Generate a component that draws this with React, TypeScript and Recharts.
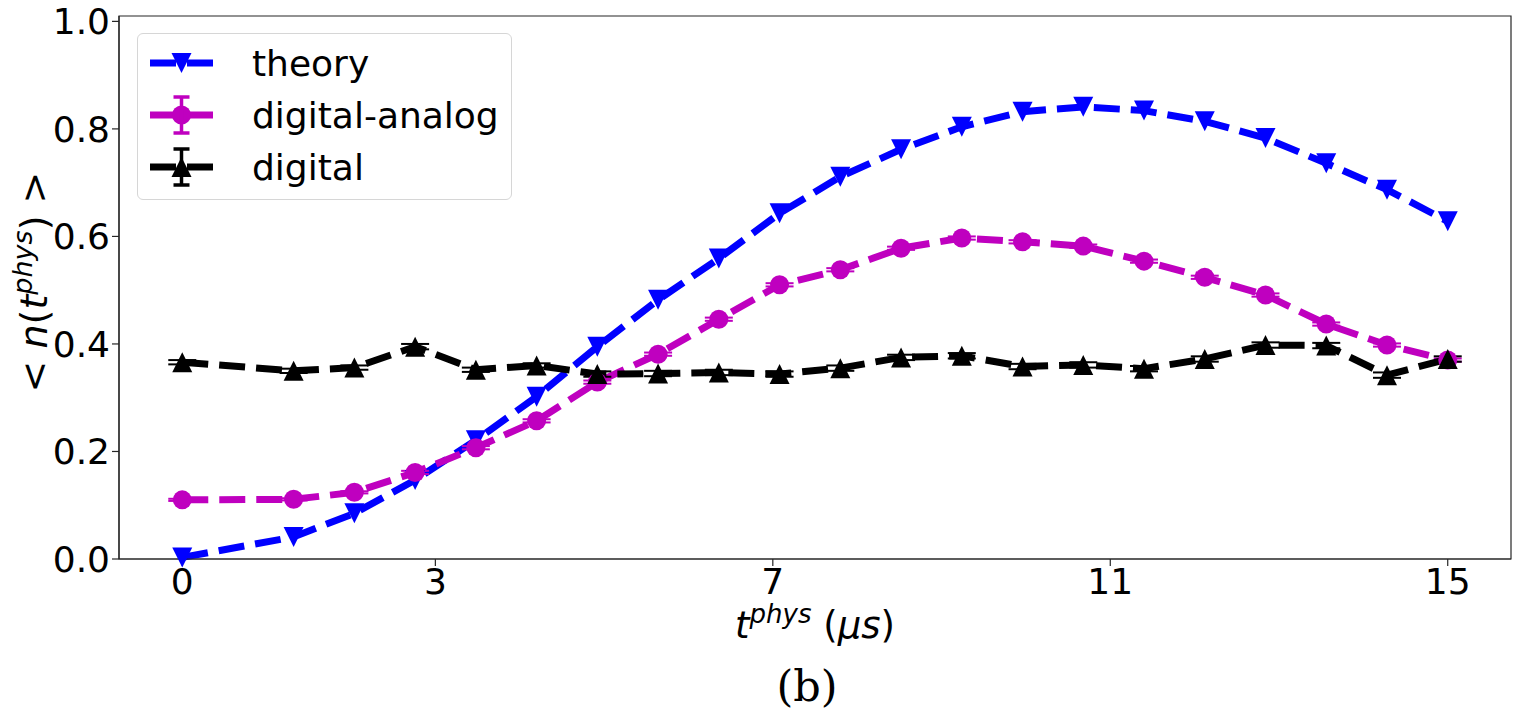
import { ErrorBar, Legend, Line, LineChart, ReferenceArea, XAxis, YAxis } from "recharts";

// t_phys in microseconds, 21 sample points
const tPhys = [
  0, 1.32, 2.04, 2.76, 3.48, 4.2, 4.92, 5.64, 6.36, 7.08, 7.8, 8.52, 9.24, 9.96,
  10.68, 11.4, 12.12, 12.84, 13.56, 14.28, 15.0,
];

const theory = [
  0.003, 0.041, 0.085, 0.147, 0.221, 0.302, 0.395, 0.482, 0.559, 0.643, 0.711,
  0.762, 0.804, 0.832, 0.841, 0.834, 0.814, 0.783, 0.736, 0.687, 0.628,
];

const digitalAnalog = [
  0.11, 0.111, 0.124, 0.161, 0.207, 0.257, 0.329, 0.381, 0.446, 0.51, 0.538,
  0.578, 0.597, 0.59, 0.582, 0.554, 0.524, 0.491, 0.437, 0.398, 0.37,
];
const digitalAnalogErr = [
  0.002, 0.002, 0.002, 0.003, 0.003, 0.003, 0.003, 0.003, 0.003, 0.003, 0.003,
  0.003, 0.003, 0.003, 0.003, 0.003, 0.003, 0.003, 0.003, 0.003, 0.003,
];

const digital = [
  0.366, 0.35, 0.356, 0.395, 0.352, 0.36, 0.344, 0.345, 0.347, 0.344, 0.355,
  0.375, 0.378, 0.358, 0.361, 0.354, 0.372, 0.398, 0.397, 0.342, 0.372,
];
const digitalErr = [
  0.004, 0.004, 0.004, 0.005, 0.004, 0.004, 0.005, 0.005, 0.005, 0.005, 0.005,
  0.005, 0.005, 0.005, 0.005, 0.005, 0.005, 0.005, 0.005, 0.005, 0.005,
];

const xTicks = [0, 3, 7, 11, 15];
const yTicks = [0, 0.2, 0.4, 0.6, 0.8, 1.0];
const xDomain = [-0.75, 15.75];
const yDomain = [0, 1.01];
const seriesNames = ["theory", "digital-analog", "digital"];

const data = tPhys.map((t, i) => ({
  t,
  theory: theory[i],
  da: digitalAnalog[i],
  daErr: digitalAnalogErr[i],
  dig: digital[i],
  digErr: digitalErr[i],
}));

const BLUE = "#0000ff";
const MAGENTA = "#bf00bf";
const BLACK = "#000000";
const AXIS = "#262626";
const FONT = '"DejaVu Sans", sans-serif';
const FS = 36;
const LW = 7;
const DASH = "26 11";
const MS = 20;

function marker(kind: string, cx: number, cy: number, color: string, key?: string) {
  const h = MS / 2;
  if (kind === "circle") return <circle key={key} cx={cx} cy={cy} r={h - 0.5} fill={color} />;
  const pts =
    kind === "down"
      ? `${cx},${cy + h} ${cx - h},${cy - h} ${cx + h},${cy - h}`
      : `${cx},${cy - h} ${cx - h},${cy + h} ${cx + h},${cy + h}`;
  return <polygon key={key} points={pts} fill={color} />;
}

const legendRows = [
  { name: seriesNames[0], color: BLUE, kind: "down", err: false },
  { name: seriesNames[1], color: MAGENTA, kind: "circle", err: true },
  { name: seriesNames[2], color: BLACK, kind: "up", err: true },
];

const renderLegend = () => (
  <div
    style={{
      position: "relative",
      width: 373,
      height: 165,
      border: "1px solid #d6d6d6",
      borderRadius: 6,
      background: "rgba(255,255,255,0.8)",
      fontFamily: FONT,
      fontSize: 36,
      color: "#000",
    }}
  >
    {legendRows.map((r, i) => (
      <div
        key={r.name}
        style={{
          position: "absolute",
          left: 0,
          top: 3 + i * 52,
          height: 52,
          display: "flex",
          alignItems: "center",
          whiteSpace: "nowrap",
        }}
      >
        <svg width={114} height={52} style={{ display: "block" }}>
          <line x1={12} y1={26} x2={75} y2={26} stroke={r.color} strokeWidth={LW} strokeDasharray={DASH} />
          {marker(r.kind, 43.5, 26, r.color)}
          {r.err && (
            <g stroke={r.color} strokeWidth={3.5}>
              <line x1={43.5} y1={8} x2={43.5} y2={44} />
              <line x1={35.5} y1={8} x2={51.5} y2={8} />
              <line x1={35.5} y1={44} x2={51.5} y2={44} />
            </g>
          )}
        </svg>
        <span>{r.name}</span>
      </div>
    ))}
  </div>
);

const renderXTitle = () => (
  <g>
    <text x={815} y={638} textAnchor="middle" fontFamily={FONT} fontSize={37} fill="#000">
      <tspan fontStyle="italic">t</tspan>
      <tspan fontStyle="italic" fontSize={26} dy={-15}>
        phys
      </tspan>
      <tspan dy={15}> (</tspan>
      <tspan fontStyle="italic">μs</tspan>
      <tspan>)</tspan>
    </text>
    <text x={807} y={701} textAnchor="middle" fontFamily='"DejaVu Serif", serif' fontSize={43} fill="#000">
      (b)
    </text>
  </g>
);

const renderYTitle = () => (
  <text
    x={0}
    y={0}
    transform="translate(47 282) rotate(-90)"
    textAnchor="middle"
    fontFamily={FONT}
    fontSize={38}
    fill="#000"
  >
    <tspan>{"< "}</tspan>
    <tspan fontStyle="italic">n</tspan>
    <tspan>(</tspan>
    <tspan fontStyle="italic">t</tspan>
    <tspan fontStyle="italic" fontSize={27} dy={-15}>
      phys
    </tspan>
    <tspan dy={15}>{") >"}</tspan>
  </text>
);

const tickStyle = { fill: "#000", fontSize: FS, fontFamily: FONT };

export default function App() {
  return (
    <div style={{ position: "absolute", left: 0, top: 0, background: "#fff" }}>
      <LineChart width={1519} height={719} data={data} margin={{ top: 16, right: 8, left: 0, bottom: 0 }}>
        <XAxis
          dataKey="t"
          type="number"
          domain={xDomain}
          ticks={xTicks}
          height={160}
          tick={tickStyle}
          tickSize={7}
          axisLine={{ stroke: AXIS, strokeWidth: 1.2 }}
          tickLine={{ stroke: AXIS, strokeWidth: 1.2 }}
          label={renderXTitle}
        />
        <YAxis
          type="number"
          domain={yDomain}
          ticks={yTicks}
          width={119}
          tick={tickStyle}
          tickSize={7}
          tickFormatter={(v: number) => v.toFixed(1)}
          axisLine={{ stroke: AXIS, strokeWidth: 1.2 }}
          tickLine={{ stroke: AXIS, strokeWidth: 1.2 }}
          label={renderYTitle}
        />
        <ReferenceArea
          x1={xDomain[0]}
          x2={xDomain[1]}
          y1={yDomain[0]}
          y2={yDomain[1]}
          fill="none"
          stroke={AXIS}
          strokeWidth={1.2}
          ifOverflow="visible"
        />
        <Legend
          layout="vertical"
          align="center"
          verticalAlign="middle"
          content={renderLegend}
          wrapperStyle={{ left: 137, top: 33, width: 375, height: 167 }}
        />
        <Line
          dataKey="theory"
          name={seriesNames[0]}
          stroke={BLUE}
          strokeWidth={LW}
          strokeDasharray={DASH}
          dot={(p: any) => marker("down", p.cx, p.cy, BLUE, `th-${p.index}`)}
          activeDot={false}
          isAnimationActive={false}
        />
        <Line
          dataKey="da"
          name={seriesNames[1]}
          stroke={MAGENTA}
          strokeWidth={LW}
          strokeDasharray={DASH}
          dot={(p: any) => marker("circle", p.cx, p.cy, MAGENTA, `da-${p.index}`)}
          activeDot={false}
          isAnimationActive={false}
        >
          <ErrorBar dataKey="daErr" direction="y" width={14} stroke={MAGENTA} strokeWidth={2} isAnimationActive={false} />
        </Line>
        <Line
          dataKey="dig"
          name={seriesNames[2]}
          stroke={BLACK}
          strokeWidth={LW}
          strokeDasharray={DASH}
          dot={(p: any) => marker("up", p.cx, p.cy, BLACK, `dg-${p.index}`)}
          activeDot={false}
          isAnimationActive={false}
        >
          <ErrorBar dataKey="digErr" direction="y" width={14} stroke={BLACK} strokeWidth={2} isAnimationActive={false} />
        </Line>
      </LineChart>
    </div>
  );
}
